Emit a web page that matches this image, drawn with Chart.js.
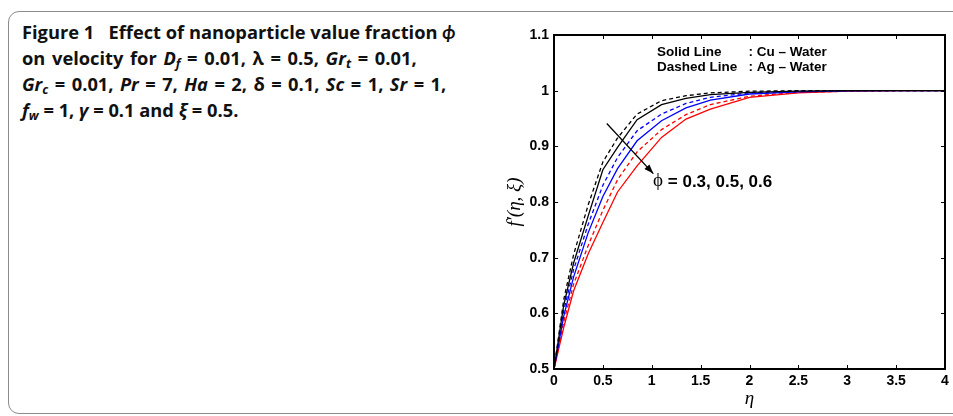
<!DOCTYPE html>
<html>
<head>
<meta charset="utf-8">
<script src="https://cdn.jsdelivr.net/npm/chart.js@4"></script>
<style>
  html, body { margin: 0; padding: 0; background: #fff; overflow: hidden; }
  body { width: 953px; height: 416px; position: relative; }
  .panel { position: absolute; left: 8px; top: 11px; width: 980px; height: 401px;
           border: 1.5px solid #8c8c8c; border-radius: 11px; }
  .cap { position: absolute; left: 22px; white-space: nowrap; font-family: "Open Sans", "Lato", sans-serif;
         font-weight: bold; font-size: 18.3px; line-height: 25px; color: #111; }
  .cap sub { font-size: 12.5px; vertical-align: -3px; line-height: 0; }
  #wrap { position: absolute; left: 490px; top: 20px; width: 463px; height: 396px; }
</style>
</head>
<body>
<div class="panel"></div>
<div class="cap" style="top:19px">Figure 1&nbsp;&nbsp; Effect of nanoparticle value fraction <i>ϕ</i></div>
<div class="cap" style="top:45px; word-spacing:1.9px">on velocity for <i>D<sub>f</sub></i> = 0.01, λ = 0.5, <i>Gr<sub>t</sub></i> = 0.01,</div>
<div class="cap" style="top:71px; word-spacing:1.7px"><i>Gr<sub>c</sub></i> = 0.01, <i>Pr</i> = 7, <i>Ha</i> = 2, δ = 0.1, <i>Sc</i> = 1, <i>Sr</i> = 1,</div>
<div class="cap" style="top:97px"><i>f<sub>w</sub></i> = 1, <i>γ</i> = 0.1 and <i>ξ</i> = 0.5.</div>
<div id="wrap"><canvas id="velocity"></canvas></div>
<script>
// eta grid and f'(eta, xi)
var etaValues = [0, 0.1, 0.2, 0.35, 0.5, 0.65, 0.85, 1.1, 1.35, 1.6, 2, 2.5, 3, 3.5, 4];
// solid lines: Cu - Water
var cuPhi03 = [0.5, 0.615, 0.69, 0.775, 0.858, 0.898, 0.948, 0.975, 0.986, 0.993, 0.997, 0.999, 1, 1, 1];
var cuPhi05 = [0.5, 0.595, 0.665, 0.745, 0.81, 0.86, 0.91, 0.946, 0.969, 0.983, 0.994, 0.998, 0.9995, 1, 1];
var cuPhi06 = [0.5, 0.575, 0.64, 0.707, 0.763, 0.818, 0.865, 0.916, 0.949, 0.967, 0.988, 0.996, 0.999, 1, 1];
// dashed lines: Ag - Water
var agPhi03 = [0.5, 0.625, 0.705, 0.795, 0.872, 0.915, 0.958, 0.982, 0.991, 0.996, 0.999, 1, 1, 1, 1];
var agPhi05 = [0.5, 0.605, 0.678, 0.76, 0.83, 0.88, 0.928, 0.958, 0.977, 0.988, 0.996, 0.999, 1, 1, 1];
var agPhi06 = [0.5, 0.585, 0.652, 0.722, 0.785, 0.84, 0.89, 0.93, 0.957, 0.975, 0.99, 0.997, 0.999, 1, 1];

var xTicks = [0, 0.5, 1, 1.5, 2, 2.5, 3, 3.5, 4];
var yTicks = [0.5, 0.6, 0.7, 0.8, 0.9, 1, 1.1];
var legendLines = ["Solid Line", "Dashed Line"];
var legendFluids = [": Cu \u2013 Water", ": Ag \u2013 Water"];
var phiText = "= 0.3, 0.5, 0.6";

function pts(ys) {
  return etaValues.map(function(e, i) { return {x: e, y: ys[i]}; });
}
function line(ys, color, dashed) {
  return {
    data: pts(ys), borderColor: color, borderWidth: 1.3, pointRadius: 0,
    tension: 0, fill: false, borderDash: dashed ? [4, 3] : []
  };
}
function fmt(v) { return String(+Number(v).toFixed(2)); }

var tickFont = {family: "'Liberation Sans', Arial, sans-serif", size: 14, weight: "bold"};

var decor = {
  id: "decor",
  afterDraw: function(chart) {
    var ctx = chart.ctx, a = chart.chartArea;
    var xs = chart.scales.x, ys = chart.scales.y;
    ctx.save();
    ctx.strokeStyle = "#000";
    ctx.lineWidth = 1;
    // inward ticks on all four sides
    xTicks.forEach(function(v) {
      var px = Math.round(xs.getPixelForValue(v)) + 0.5;
      ctx.beginPath();
      ctx.moveTo(px, a.bottom); ctx.lineTo(px, a.bottom - 4);
      ctx.moveTo(px, a.top); ctx.lineTo(px, a.top + 4);
      ctx.stroke();
    });
    yTicks.forEach(function(v) {
      var py = Math.round(ys.getPixelForValue(v)) + 0.5;
      ctx.beginPath();
      ctx.moveTo(a.left, py); ctx.lineTo(a.left + 4, py);
      ctx.moveTo(a.right, py); ctx.lineTo(a.right - 4, py);
      ctx.stroke();
    });
    // box
    ctx.lineWidth = 2;
    ctx.strokeRect(a.left, a.top, a.right - a.left, a.bottom - a.top);

    // line-style legend
    ctx.fillStyle = "#000";
    ctx.font = "bold 13.5px 'Liberation Sans', Arial, sans-serif";
    ctx.textBaseline = "middle";
    ctx.textAlign = "left";
    var legY = [1.069, 1.0425];
    legendLines.forEach(function(t, i) {
      ctx.fillText(t, xs.getPixelForValue(1.054), ys.getPixelForValue(legY[i]));
      ctx.fillText(legendFluids[i], xs.getPixelForValue(1.99), ys.getPixelForValue(legY[i]));
    });

    // arrow across the curves
    var x0 = xs.getPixelForValue(0.54), y0 = ys.getPixelForValue(0.941);
    var x1 = xs.getPixelForValue(1.016), y1 = ys.getPixelForValue(0.851);
    ctx.lineWidth = 1.3;
    ctx.beginPath(); ctx.moveTo(x0, y0); ctx.lineTo(x1, y1); ctx.stroke();
    var ang = Math.atan2(y1 - y0, x1 - x0), h = 10;
    ctx.beginPath();
    ctx.moveTo(x1, y1);
    ctx.lineTo(x1 - h * Math.cos(ang - 0.35), y1 - h * Math.sin(ang - 0.35));
    ctx.lineTo(x1 - h * Math.cos(ang + 0.35), y1 - h * Math.sin(ang + 0.35));
    ctx.closePath(); ctx.fill();

    // phi label
    var lx = xs.getPixelForValue(1.013), ly = ys.getPixelForValue(0.838);
    ctx.font = "19px 'Liberation Serif', 'DejaVu Serif', serif";
    ctx.fillText("\u03d5", lx, ly);
    var w = ctx.measureText("\u03d5 ").width;
    ctx.font = "bold 17px 'Liberation Sans', Arial, sans-serif";
    ctx.fillText(phiText, lx + w, ly + 1);
    ctx.restore();
  }
};

new Chart(document.getElementById("velocity"), {
  type: "line",
  data: {
    datasets: [
      line(cuPhi03, "#000000", false),
      line(agPhi03, "#000000", true),
      line(cuPhi05, "#0000ff", false),
      line(agPhi05, "#0000ff", true),
      line(cuPhi06, "#ff0000", false),
      line(agPhi06, "#ff0000", true)
    ]
  },
  options: {
    responsive: true, maintainAspectRatio: false, animation: false,
    layout: {padding: {left: 0, top: 15, right: 8, bottom: 0}},
    plugins: {legend: {display: false}, tooltip: {enabled: false}},
    scales: {
      x: {
        type: "linear", min: 0, max: 4,
        grid: {display: false, drawTicks: false, tickLength: 0}, border: {display: false},
        ticks: {stepSize: 0.5, color: "#000", font: tickFont, padding: 4, maxRotation: 0, callback: fmt},
        title: {display: true, text: "\u03b7", color: "#000", padding: {top: 0, bottom: 6},
                font: {family: "'Liberation Serif', serif", size: 19, style: "italic"}},
        afterFit: function(s) { s.height = 47; }
      },
      y: {
        min: 0.5, max: 1.1,
        grid: {display: false, drawTicks: false, tickLength: 0}, border: {display: false},
        ticks: {stepSize: 0.1, color: "#000", font: tickFont, padding: 5, callback: fmt},
        title: {display: true, text: "f\u2032(\u03b7, \u03be)", color: "#000", padding: {top: 14, bottom: 0},
                font: {family: "'Liberation Serif', serif", size: 19, style: "italic"}},
        afterFit: function(s) { s.width = 64; }
      }
    }
  },
  plugins: [decor]
});
</script>
</body>
</html>
